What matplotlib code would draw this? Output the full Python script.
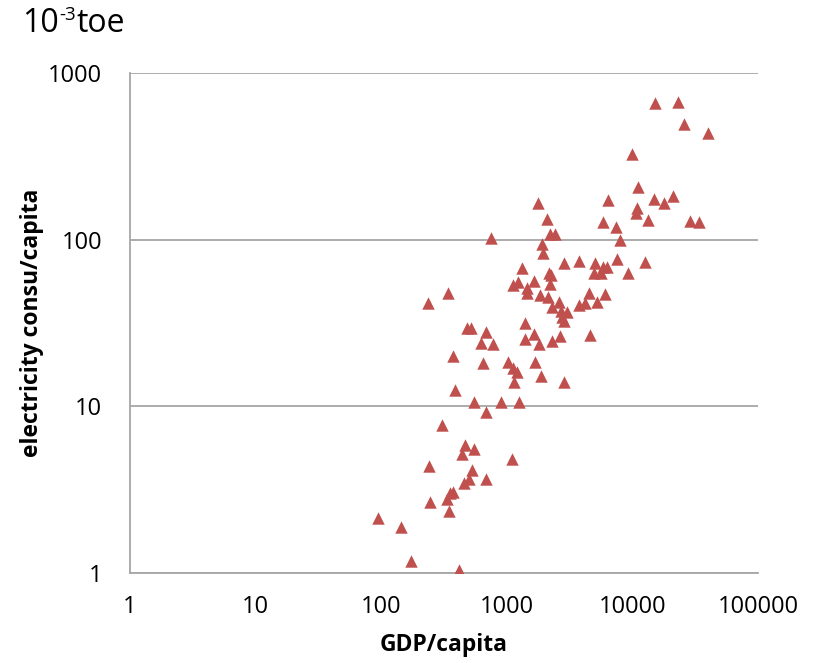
import numpy as np
import matplotlib.pyplot as plt
from matplotlib.ticker import FixedLocator, FixedFormatter, NullLocator

# GDP per capita and electricity consumption per capita (10^-3 toe)
gdp = [15100, 23100, 25800, 40000, 9930, 11100, 6390, 14900, 21000, 17900,
       10900, 10700, 5830, 7400, 13300, 28800, 33900, 7970, 1770, 2090,
       2210, 2420, 748, 1910, 1940, 1320, 2850, 3760, 5040, 5830,
       6280, 7540, 12600, 9230, 4950, 5630, 2170, 2250, 2210, 1650,
       1230, 1120, 1450, 1450, 1840, 2130, 2600, 2290, 2700, 3020,
       2750, 2850, 3760, 4200, 4510, 5230, 6050, 340, 236, 1400,
       482, 519, 683, 623, 776, 1400, 1650, 1800, 2290, 2650,
       4590, 373, 647, 1020, 1120, 1210, 1680, 1870, 1140, 2850,
       387, 548, 899, 1250, 683, 305, 465, 548, 440, 1100,
       240, 528, 500, 456, 683, 373, 353, 334, 245, 347,
       94, 144, 173, 416]
elec = [659, 669, 494, 436, 326, 207, 173, 175, 183, 166,
        155, 144, 128, 119, 131, 129, 128, 99.5, 166, 133,
        108, 108, 102, 94, 83, 67.6, 72.4, 74.4, 72.4, 68.5,
        68.5, 76.5, 73.4, 63, 63, 63, 63, 61.3, 54.2, 56.5,
        55.7, 53.4, 51.3, 47.8, 46.5, 45.3, 42.2, 39.4, 37.3, 36.8,
        34.3, 32.5, 40.5, 41.7, 47.8, 42.2, 47.2, 47.8, 41.7, 31.6,
        29.5, 29.5, 27.9, 24.0, 23.6, 25.3, 27.1, 23.6, 24.6, 26.4,
        26.8, 20.0, 18.2, 18.4, 17.0, 16.1, 18.4, 15.2, 14.0, 14.0,
        12.5, 10.6, 10.6, 10.6, 9.25, 7.73, 5.86, 5.55, 5.18, 4.83,
        4.38, 4.15, 3.66, 3.47, 3.66, 3.06, 3.02, 2.78, 2.67, 2.36,
        2.14, 1.89, 1.18, 1.04]

fig = plt.figure(figsize=(8.15, 6.63), dpi=100)
ax = fig.add_axes([0.1595, 0.1357, 0.7706, 0.7542])

ax.scatter(gdp, elec, marker='^', s=80, color='#C0504D', linewidths=0, zorder=3)

ax.set_xscale('log')
ax.set_yscale('log')
ax.set_xlim(1, 100000)
ax.set_ylim(1, 1000)

xt = [1, 10, 100, 1000, 10000, 100000]
yt = [1, 10, 100, 1000]
ax.xaxis.set_major_locator(FixedLocator(xt))
ax.xaxis.set_major_formatter(FixedFormatter([str(v) for v in xt]))
ax.xaxis.set_minor_locator(NullLocator())
ax.yaxis.set_major_locator(FixedLocator(yt))
ax.yaxis.set_major_formatter(FixedFormatter([str(v) for v in yt]))
ax.yaxis.set_minor_locator(NullLocator())

ax.grid(axis='y', color='#a6a6a6', linewidth=1.3)
ax.set_axisbelow(True)
for s in ['top', 'right']:
    ax.spines[s].set_visible(False)
for s in ['left', 'bottom']:
    ax.spines[s].set_color('#a6a6a6')
    ax.spines[s].set_linewidth(1.3)

ax.tick_params(length=0, labelsize=17)
ax.tick_params(axis='x', pad=16)
ax.tick_params(axis='y', pad=20)
for lab in ax.get_xticklabels() + ax.get_yticklabels():
    lab.set_fontfamily('Open Sans')

ax.set_xlabel('GDP/capita', fontsize=16.5, fontweight='bold', family='Open Sans', labelpad=10)
ax.set_ylabel('electricity consu/capita', fontsize=16.5, fontweight='bold', family='Open Sans', labelpad=3)

# unit label: "10" + raised "-3" + "toe"
t1 = fig.text(0.027, 0.94, '10', fontsize=23, family='Open Sans', va='bottom', ha='left')
t2 = ax.annotate('-3', xy=(1, 0), xycoords=t1, xytext=(0.5, 11.5), textcoords='offset points',
                 fontsize=13.5, family='Open Sans', va='bottom', ha='left', annotation_clip=False)
ax.annotate('toe', xy=(1, 0), xycoords=t2, xytext=(0.5, -11.5), textcoords='offset points',
            fontsize=23, family='Open Sans', va='bottom', ha='left', annotation_clip=False)

fig.savefig('out.png', dpi=100)
